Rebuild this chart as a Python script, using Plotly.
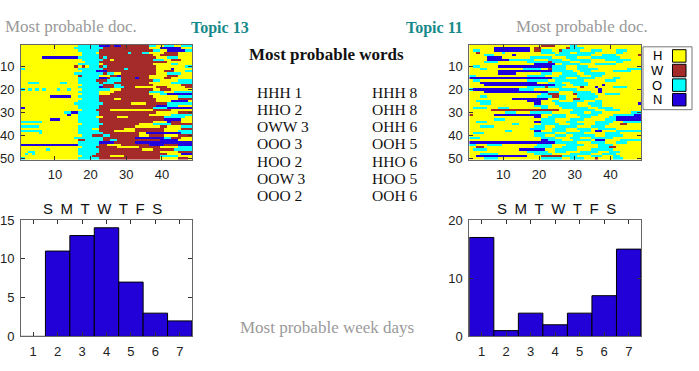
import plotly.graph_objects as go

W, H = 699, 371
def px(x): return x / W
def py(y): return 1 - y / H

# ---------------- data ----------------
CODES = {'H': 1, 'W': 2, 'O': 3, 'N': 4}
NCOL = 48

topic13_rows = [
    "H16 O6 N3 W1 N2 W8 O2 H2 O3 H2 O3",
    "H15 O8 W13 H3 N6 H3",
    "H16 O6 W15 O2 H2 N5 O2",
    "H17 O4 H1 W8 O1 W3 O2 H4 W4 H4",
    "H17 O5 W15 H2 W5 H4",
    "H6 N10 O6 W1 O1 W14 H3 O3 H4",
    "H17 O6 W2 H1 W11 O3 H2 W3 H3",
    "H18 O4 W19 H7",
    "H16 O6 H1 W14 H5 O2 H4",
    "H15 W1 H1 W1 H1 O3 W1 O1 W14 H8 O2",
    "O1 H15 O7 W6 O1 W8 H4 N1 H5",
    "H17 O4 N3 W14 H2 W3 H3 O2",
    "H15 O8 W1 O2 H2 W10 H3 O4 H3",
    "H16 W1 O5 H3 W2 N1 W8 H5 W3 H4",
    "H16 O6 N2 W1 O3 W4 N1 W3 H4 W2 H6",
    "H16 O5 W3 O4 W9 O2 H5 O4",
    "H2 O3 H6 O2 H3 O6 W1 O3 W10 H6 O6",
    "H17 O6 W3 O2 W9 H8 W3",
    "H16 O6 N1 W3 O3 W3 H6 W3 H5 W2",
    "O1 H1 O1 H1 O1 H1 O1 H3 O1 H2 O1 H3 O8 H3 W9 H2 W3 H6",
    "H16 O6 H4 W10 O4 H3 O5",
    "H17 O5 H3 W11 H3 O2 N7",
    "H8 N6 H2 O6 W15 H7 O4",
    "H17 O5 W4 H2 W10 H6 W4",
    "H16 O6 W16 H4 N5 H1",
    "H15 O8 W8 H4 W6 O7",
    "H16 O6 W16 N3 O3 H4",
    "N1 H15 O6 W15 O4 N7",
    "H17 O4 W4 H12 W5 H6",
    "H12 O2 N2 O6 W16 H6 W4",
    "H13 N1 H2 O6 W14 H6 O6",
    "H16 O5 H2 W4 H3 W10 O6 H2",
    "H8 N3 H5 O6 W18 N5 H3",
    "O6 H10 O6 W15 H4 N1 W3 H3",
    "H17 O6 W10 H4 O5 W6",
    "O5 H11 O6 W10 H7 W2 H4 O3",
    "H16 O4 H2 W7 H3 W8 H5 W3",
    "O6 H10 O6 W4 H6 W8 H4 O4",
    "H5 O1 H10 O7 W10 H2 N10 O3",
    "H17 O3 W3 O2 W8 H3 W4 H4 W4",
    "H15 O8 W9 N8 O2 W3 H3",
    "H16 W2 O5 W2 O2 W12 N5 H4",
    "H16 O6 N4 W6 N16",
    "N16 O6 W2 H4 W8 N4 W4 N4",
    "H17 O4 W6 H6 W6 H5 O4",
    "H7 O1 H8 O6 W12 H3 W6 O5",
    "H2 O2 H12 O6 W17 H5 W4",
    "H1 O1 H1 O1 H12 O5 W20 H4 N3",
    "H17 O3 W5 H4 W10 O5 H4",
    "O1 H15 O6 W17 H5 W3 H1",
]

topic11_rows = [
    "H20 W4 H4 O2 H18",
    "H7 N10 H1 W2 H7 W1 O4 H16",
    "H1 O2 H4 N10 H1 W2 O3 H2 W1 O5 H3 O3 H4 O3 H4",
    "H2 W1 H6 O1 H10 O4 H1 O3 H2 O5 H6 O2 H5",
    "H4 O3 H5 N1 H11 O10 H3 O4 H6 W1",
    "H5 N4 H8 O6 H4 O3 H4 O8 H6",
    "H5 N6 O7 H4 O4 H2 O6 H4 O7 H3",
    "H4 O4 H8 O6 W1 O5 H3 O3 H7 O2 H5",
    "H18 N6 H2 O5 H4 O6 H7",
    "H1 O2 H5 N15 O4 H3 O3 H15",
    "H3 O2 H10 O5 H2 W1 O4 H3 O6 H8 O4",
    "H8 N15 O6 H2 O3 H6 O5 H3",
    "H8 N5 H7 O3 H3 O4 H2 O6 H10",
    "O2 H14 O5 H4 O6 H3 O3 H11",
    "N23 O4 H3 O5 H5 O2 H6",
    "H1 O2 H13 O6 H2 O8 H6 O3 H7",
    "H3 N16 H3 O4 H2 O5 H15",
    "H4 N20 O3 H2 O4 H4 N1 H10",
    "H16 O5 W1 O4 H5 W1 H3 N1 H4 O4 H4",
    "O1 N13 O4 H7 O5 H6 N1 H11",
    "H4 N18 O3 H4 O5 H2 N1 H11",
    "H20 O2 W3 H4 W1 O5 H3 O4 H6",
    "H3 O2 H14 O4 W2 O2 H3 O6 H12",
    "H12 N10 H3 O2 H2 W2 O4 H13",
    "H2 O4 H10 N4 H3 O2 H4 O3 H3 O2 H11",
    "H3 O3 H12 N2 H4 O6 H3 O4 H10 N1",
    "H18 O4 H3 O5 H4 O3 H11",
    "H1 O4 H3 O3 H9 O2 H4 O7 H3 O4 H8",
    "H6 W19 H4 O6 H3 O4 H6",
    "H10 O3 H4 O6 H5 O4 H2 O3 H8 O3",
    "W1 H6 N13 H3 O4 H3 O6 H4 O6 N2",
    "H18 N2 H2 O5 H4 O3 H5 O2 N7",
    "H7 O3 H10 O4 H4 O4 H6 O3 N7",
    "H2 O3 H13 N2 O4 H3 O3 H5 O5 H3 O5",
    "H12 O2 H6 O5 H3 O4 H3 O4 H3 W2 H4",
    "H3 O4 H11 O3 H3 O6 H4 O4 H10",
    "H17 O4 H2 O4 H3 O4 H2 O5 H7",
    "H10 O2 H6 N2 H3 O4 H4 O3 H1 N2 H4 O7",
    "H1 O3 H14 O6 H3 O5 H6 O4 H6",
    "H18 O3 H3 O3 H2 O6 H3 O5 H5",
    "O3 H17 O4 H4 O3 H3 O6 H8",
    "H20 N2 O4 H3 O5 H1 N3 H4 O6",
    "N24 O6 H4 O4 H3 O3 H4",
    "O2 H3 O4 H10 O4 H4 O5 H4 O4 H8",
    "H2 W2 H14 O5 H3 O4 H6 O3 W2 H7",
    "H1 O4 H9 N7 H3 O6 H4 O6 H8",
    "H16 O6 H2 O3 H4 O5 H3 O3 H6",
    "H3 O5 H10 O5 H5 O6 H3 O4 H7",
    "H2 N14 H4 W6 O4 H4 O3 H3 O2 H6",
    "H4 O4 H12 O6 H2 O4 H3 W1 H4 O3 H5",
]

days = [1, 2, 3, 4, 5, 6, 7]
topic13_days = [0, 11, 13, 14, 7, 3, 2]
topic11_days = [17, 1, 4, 2, 4, 7, 15]
day_title = "S\u2002M\u2002T\u2002W\u2002T\u2002F\u2002S"

words13 = ["HHH 1", "HHO 2", "OWW 3", "OOO 3", "HOO 2", "OOW 3", "OOO 2"]
words11 = ["HHH 8", "OHH 8", "OHH 6", "OOH 5", "HHO 6", "HOO 5", "OOH 6"]

legend_labels = ["H", "W", "O", "N"]
legend_colors = ["#ffff00", "#a52a2a", "#00ffff", "#2200dd"]


def expand(rle, n=NCOL):
    out = []
    for tok in rle.split():
        out += [CODES[tok[0]]] * int(tok[1:])
    out = out[:n]
    while len(out) < n:
        out.append(out[-1])
    return out

z13 = [expand(r) for r in topic13_rows]
z11 = [expand(r) for r in topic11_rows]
cols = list(range(1, NCOL + 1))
rows = list(range(1, len(z13) + 1))

cscale = []
for i, c in enumerate(legend_colors):
    cscale.append([i / 4, c])
    cscale.append([(i + 1) / 4, c])

BAR_COLOR = "#2200d8"
fig = go.Figure()

fig.add_trace(go.Heatmap(z=z13, x=cols, y=rows, colorscale=cscale, zmin=0.5, zmax=4.5,
                         showscale=False, xaxis="x", yaxis="y", hoverinfo="skip"))
fig.add_trace(go.Heatmap(z=z11, x=cols, y=rows, colorscale=cscale, zmin=0.5, zmax=4.5,
                         showscale=False, xaxis="x2", yaxis="y2", hoverinfo="skip"))
fig.add_trace(go.Bar(x=days, y=topic13_days, width=1, marker=dict(color=BAR_COLOR,
                     line=dict(color="#000000", width=1)), xaxis="x3", yaxis="y3"))
fig.add_trace(go.Bar(x=days, y=topic11_days, width=1, marker=dict(color=BAR_COLOR,
                     line=dict(color="#000000", width=1)), xaxis="x4", yaxis="y4"))

tickfont = dict(family="Liberation Sans, Arial, sans-serif", size=13, color="#222222")
axcommon = dict(ticks="inside", ticklen=4, tickcolor="#333333", showline=True,
                linecolor="#666666", linewidth=1, mirror="allticks", showgrid=False,
                zeroline=False, tickfont=tickfont, ticklabelstandoff=3)

def dom_x(a, b): return [px(a), px(b)]
def dom_y(top, bottom): return [py(bottom), py(top)]

layout = dict(
    width=W, height=H, margin=dict(l=0, r=0, t=0, b=0),
    paper_bgcolor="white", plot_bgcolor="white", showlegend=False,
    xaxis=dict(domain=dom_x(21, 192.3), range=[0.5, 48.5], tickvals=[10, 20, 30, 40], anchor="y", **axcommon),
    yaxis=dict(domain=dom_y(39.3, 159.3), range=[50.5, 0.5], tickvals=[10, 20, 30, 40, 50], anchor="x", **axcommon),
    xaxis2=dict(domain=dom_x(469.3, 641), range=[0.5, 48.5], tickvals=[10, 20, 30, 40], anchor="y2", **axcommon),
    yaxis2=dict(domain=dom_y(39.3, 159.3), range=[50.5, 0.5], tickvals=[10, 20, 30, 40, 50], anchor="x2", **axcommon),
    xaxis3=dict(domain=dom_x(21, 192), range=[0.5, 7.5], tickvals=days, anchor="y3", **axcommon),
    yaxis3=dict(domain=dom_y(222, 343.3), range=[0, 15], tickvals=[0, 5, 10, 15], anchor="x3", **axcommon),
    xaxis4=dict(domain=dom_x(469.3, 641), range=[0.5, 7.5], tickvals=days, anchor="y4", **axcommon),
    yaxis4=dict(domain=dom_y(222, 343.3), range=[0, 20], tickvals=[0, 10, 20], anchor="x4", **axcommon),
)

serif = "Liberation Serif, Times New Roman, serif"
gray = "#9a9a9a"
teal = "#168a8a"
ann = []
def text(x, y, s, size, color, bold=False, xanchor="center", family=serif):
    if bold:
        s = "<b>" + s + "</b>"
    ann.append(dict(x=px(x), y=py(y), xref="paper", yref="paper", text=s, showarrow=False,
                    xanchor=xanchor, yanchor="middle",
                    font=dict(family=family, size=size, color=color)))

text(71, 20, "Most probable doc.", 17, gray)
text(582, 20, "Most probable doc.", 17, gray)
text(220, 22, "Topic 13", 16, teal, bold=True)
text(434, 22, "Topic 11", 16, teal, bold=True)
text(326, 49, "Most probable words", 17, "#111111", bold=True)
text(327, 334, "Most probable week days", 17, gray)
for i, (a, b) in enumerate(zip(words13, words11)):
    yy = 89 + i * 17.9
    text(255, yy, a, 15.5, "#111111", xanchor="left")
    text(369.5, yy, b, 15.5, "#111111", xanchor="left")

sans = "Liberation Sans, Arial, sans-serif"
text(103, 210, day_title, 15, "#111111", family=sans)
text(556, 210, day_title, 15, "#111111", family=sans)

shapes = [dict(type="rect", xref="paper", yref="paper", x0=px(643), x1=px(692),
               y0=py(107), y1=py(41.5), fillcolor="white", line=dict(color="#777777", width=1))]
for i, (lab, col) in enumerate(zip(legend_labels, legend_colors)):
    cy = 51 + i * 15.2
    shapes.append(dict(type="rect", xref="paper", yref="paper", x0=px(672.5), x1=px(686),
                       y0=py(cy + 6.5), y1=py(cy - 6.5), fillcolor=col,
                       line=dict(color="#000000", width=1)))
    text(657, cy, lab, 13, "#000000", family=sans)

layout["annotations"] = ann
layout["shapes"] = shapes
fig.update_layout(**layout)
fig.write_html("out.html", config={"displayModeBar": False})
